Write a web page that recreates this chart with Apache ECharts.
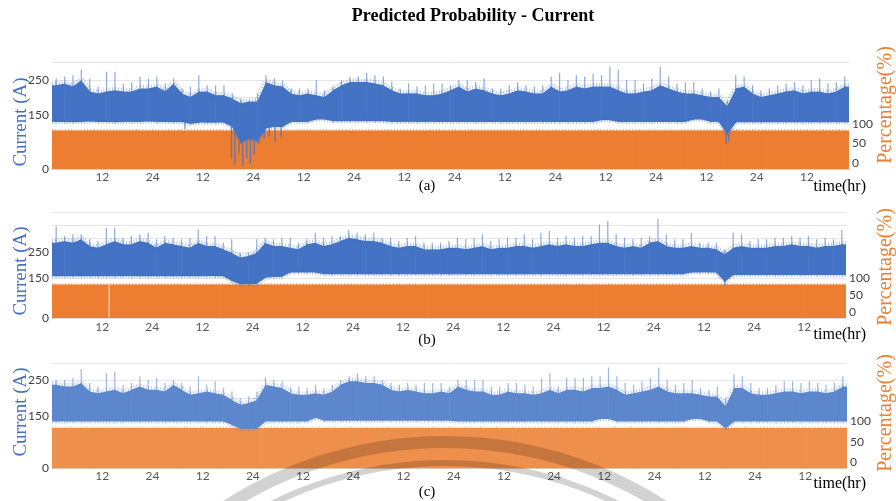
<!DOCTYPE html>
<html>
<head>
<meta charset="utf-8">
<script src="https://cdn.jsdelivr.net/npm/echarts@6/dist/echarts.min.js"></script>
<style>
  html, body { margin: 0; padding: 0; background: #ffffff; }
  #chart { width: 896px; height: 501px; }
</style>
</head>
<body>
<div id="chart"></div>
<script>
// Time axis: 2-hour bins over 190 hours, labelled by hour of day.
const BIN_HOURS = 2;
const SPAN_HOURS = 190;
const ORANGE_BIN_HOURS = 10;
const hourLabels = ['12', '24'];
const currentLabelValues = [0, 150, 250];
const percentLabelValues = [0, 50, 100];

// ---- (a) current envelope per 2 h bin: lower edge, dense top, spike top (A)
const currentA_low = [
  132,132,131,132,133,132,132,131,132,132,
  132,133,132,132,131,132,126,130,130,130,
  130,118,72,86,77,114,118,118,132,132,
  132,139,139,134,134,134,134,134,134,134,
  132,132,132,132,132,132,132,132,
  132,132,132,132,132,132,132,132,132,132,
  132,132,132,132,132,132,132,137,137,132,
  132,132,132,132,132,132,132,132,139,139,
  132,132,95,131,131,131,131,131,131,131,
  131,131,131,131,131,131,131
];
const currentA_high = [
  235,240,231,249,217,212,217,221,217,217,
  226,226,231,217,240,212,202,217,217,207,
  207,198,184,189,189,244,235,231,212,207,
  212,207,202,221,235,244,244,244,240,235,
  221,212,212,212,207,207,212,221,
  231,217,226,221,212,207,212,221,217,212,
  212,231,217,221,231,226,231,231,231,221,
  212,212,217,221,235,226,217,212,212,207,
  202,202,175,226,231,212,202,207,212,217,
  221,212,217,217,212,217,231
];
const currentA_peak = [
  254,259,263,279,254,231,273,273,240,244,
  259,254,259,240,254,226,231,263,235,235,
  235,212,198,193,212,263,254,249,226,226,
  226,249,221,231,249,259,259,270,263,259,
  244,226,240,231,235,240,240,235,
  249,249,244,254,226,226,235,244,235,231,
  235,259,270,249,263,259,268,263,287,278,
  249,249,240,254,287,259,240,244,244,226,
  217,226,193,263,259,235,221,226,235,240,
  244,235,249,254,240,244,259
];
// short drops of the current below the band: [hour, A]
const currentA_drops = [
  [31.7, 112], [42.8, 28], [43.6, 12], [44.6, 45], [45.5, 8], [46.4, 30],
  [47.3, 15], [48.2, 40], [49.3, 70], [50.6, 85], [51.8, 92], [53.2, 75],
  [54.6, 90], [160.7, 70], [161.3, 78]
];
// predicted probability per 10 h bin (%)
const percentA = [99,99,99,99,99,99,99,99,99,99,99,99,99,99,99,99,99,99,99];
const percentA_drops = [];

// ---- (b)
const currentB_low = [
  158,158,158,158,158,158,158,158,158,158,
  158,158,158,158,158,158,158,158,158,158,
  158,140,127,127,128,152,155,155,172,172,
  172,172,165,165,165,165,165,165,165,165,
  165,165,165,165,165,165,165,165,
  165,165,165,165,165,165,165,165,165,165,
  165,165,165,165,165,165,165,165,165,165,
  165,165,165,165,165,165,165,165,172,172,
  172,172,136,162,162,162,162,162,162,162,
  162,162,162,162,162,162,162
];
const currentB_high = [
  284,291,284,297,272,265,278,291,278,278,
  291,284,265,284,278,272,265,284,272,272,
  259,246,228,234,246,284,272,272,265,259,
  278,284,272,278,291,303,297,291,291,284,
  272,265,272,272,259,259,259,265,
  265,259,265,272,259,265,265,272,272,265,
  272,278,272,278,272,272,278,284,284,272,
  265,272,265,284,291,272,265,265,272,265,
  265,259,240,265,272,265,265,265,272,272,
  278,272,272,265,272,272,278
];
const currentB_peak = [
  345,309,316,316,297,291,341,341,303,309,
  316,322,297,309,303,297,303,335,309,309,
  284,297,246,246,297,303,297,303,303,284,
  297,322,303,309,309,332,322,316,322,303,
  303,291,303,309,284,284,284,291,
  303,297,303,316,291,297,303,303,316,297,
  322,328,303,309,303,309,309,353,366,316,
  303,297,303,309,375,316,297,297,322,284,
  284,284,259,322,316,291,297,297,303,303,
  309,303,309,297,303,297,332
];
const currentB_drops = [[161.0, 122]];
const percentB = [99,99,99,99,99,99,99,99,99,99,99,99,99,99,99,99,99,99,99];
const percentB_drops = [[13.65, 2]];

// ---- (c)
const currentC_low = [
  134,134,134,134,134,134,134,134,134,134,
  134,134,134,134,134,134,134,134,134,134,
  134,124,113,113,113,134,134,134,134,134,
  134,144,136,136,136,136,136,136,136,136,
  136,136,136,136,136,136,136,136,
  134,134,134,134,134,134,134,134,134,134,
  134,134,134,134,134,134,134,141,141,134,
  134,134,134,134,134,134,134,134,141,141,
  134,134,113,134,134,134,134,134,134,134,
  134,134,134,134,134,134,134
];
const currentC_high = [
  238,233,233,243,219,214,219,224,214,224,
  233,224,224,219,238,224,210,214,219,214,
  210,195,181,186,195,238,233,229,214,210,
  210,214,210,219,238,248,248,243,243,238,
  224,219,224,219,214,214,219,214,
  233,224,219,219,210,210,219,214,214,210,
  214,224,214,224,224,219,229,229,233,224,
  210,214,219,224,233,219,214,214,214,210,
  205,205,176,229,229,214,210,210,214,219,
  219,214,219,219,214,219,233
];
const currentC_peak = [
  252,252,257,283,243,233,271,276,238,243,
  262,252,257,243,252,243,233,262,238,248,
  229,219,200,205,219,259,252,248,233,233,
  229,238,229,238,252,262,271,262,262,252,
  243,238,243,238,243,243,243,233,
  252,252,252,252,233,233,243,243,238,233,
  257,271,233,257,257,257,262,262,287,262,
  243,238,248,257,287,252,238,243,252,229,
  224,233,200,267,262,243,229,229,238,248,
  248,243,248,243,238,243,262
];
const currentC_drops = [];
const percentC = [99,99,99,99,99,99,99,99,99,99,99,99,99,99,99,99,99,99,99];
const percentC_drops = [];

// Panel layout (pixel boxes) and colours
const panels = [
  { tag: '(a)', top: 62, height: 107, right: 47, curMax: 300, pctMax: 275,
    low: currentA_low, high: currentA_high, peak: currentA_peak, drops: currentA_drops,
    pct: percentA, pctDrops: percentA_drops,
    blue: '#4472C4', orange: '#ED7D31', tagY: 186, timeY: 187, nameCY: 122, pctNameCY: 105, labelMargin: 2 },
  { tag: '(b)', top: 212, height: 106, right: 50, curMax: 400, pctMax: 313,
    low: currentB_low, high: currentB_high, peak: currentB_peak, drops: currentB_drops,
    pct: percentB, pctDrops: percentB_drops,
    blue: '#4472C4', orange: '#ED7D31', tagY: 340, timeY: 335, nameCY: 271, pctNameCY: 267, labelMargin: 3 },
  { tag: '(c)', top: 363, height: 105.5, right: 49, curMax: 300, pctMax: 258,
    low: currentC_low, high: currentC_high, peak: currentC_peak, drops: currentC_drops,
    pct: percentC, pctDrops: percentC_drops,
    blue: '#5D87CD', orange: '#EF8F4C', tagY: 492, timeY: 484, nameCY: 412, pctNameCY: 413, labelMargin: 2 }
];

const LEFT = 52;
const tickFont = 'Lato, "Liberation Sans", sans-serif';
const serif = '"Liberation Serif", "DejaVu Serif", serif';

// Band between lower edge and dense top, joined from bin centre to bin centre.
function bandSegments(low, high) {
  const pts = [[0, low[0], high[0]]];
  low.forEach((v, k) => pts.push([k * BIN_HOURS + BIN_HOURS / 2, v, high[k]]));
  const n = low.length - 1;
  pts.push([SPAN_HOURS, low[n], high[n]]);
  const segs = [];
  for (let k = 0; k < pts.length - 1; k++) segs.push(pts[k].concat(pts[k + 1]));
  return segs;
}

// Solid band plus a fine comb stroke along both edges, giving the
// grassy look of densely sampled current.
function bandRenderer(color) {
  return function (params, api) {
    const a0 = api.coord([api.value(0), api.value(1)]);
    const a1 = api.coord([api.value(0), api.value(2)]);
    const b0 = api.coord([api.value(3), api.value(4)]);
    const b1 = api.coord([api.value(3), api.value(5)]);
    return {
      type: 'group',
      children: [
        { type: 'polygon',
          shape: { points: [[a0[0] - 0.3, a0[1]], [a1[0] - 0.3, a1[1]], [b1[0] + 0.3, b1[1]], [b0[0] + 0.3, b0[1]]] },
          style: { fill: color } },
        { type: 'polyline', shape: { points: [[a1[0], a1[1]], [b1[0], b1[1]]] },
          style: { stroke: color, lineWidth: 7, lineDash: [1, 1.9], lineCap: 'butt', opacity: 0.4, fill: null } },
        { type: 'polyline', shape: { points: [[a0[0], a0[1]], [b0[0], b0[1]]] },
          style: { stroke: color, lineWidth: 4, lineDash: [1, 1.6], lineCap: 'butt', opacity: 0.45, fill: null } }
      ]
    };
  };
}

function lineRenderer(color, width, alpha) {
  return function (params, api) {
    const p = api.coord([api.value(0), api.value(1)]);
    const q = api.coord([api.value(0), api.value(2)]);
    return { type: 'line', shape: { x1: p[0], y1: p[1], x2: q[0], y2: q[1] },
             style: { stroke: color, lineWidth: width, opacity: alpha } };
  };
}

function pctRenderer(color) {
  return function (params, api) {
    const x0 = api.value(0);
    const a = api.coord([x0, 0]);
    const b = api.coord([Math.min(x0 + ORANGE_BIN_HOURS, SPAN_HOURS), api.value(1)]);
    return {
      type: 'group',
      children: [
        { type: 'rect', shape: { x: a[0], y: b[1], width: b[0] - a[0] + 0.6, height: a[1] - b[1] },
          style: { fill: color } },
        { type: 'line', shape: { x1: a[0], y1: b[1], x2: b[0], y2: b[1] },
          style: { stroke: color, lineWidth: 3, lineDash: [1, 2.2], lineCap: 'butt', opacity: 0.6 } }
      ]
    };
  };
}

const grid = [], xAxis = [], yAxis = [], series = [], graphic = [];

panels.forEach((p, i) => {
  grid.push({ left: LEFT, right: p.right, top: p.top, height: p.height });
  xAxis.push({
    gridIndex: i, type: 'value', min: 0, max: SPAN_HOURS, interval: 12,
    axisLine: { show: true, lineStyle: { color: '#D9D9D9', width: 1 } },
    axisTick: { show: false }, splitLine: { show: false },
    axisLabel: {
      margin: p.labelMargin, color: '#595959', fontFamily: tickFont, fontSize: 12,
      showMinLabel: false, showMaxLabel: false,
      formatter: v => (v <= 0 || v >= SPAN_HOURS) ? '' : (v % 24 === 0 ? hourLabels[1] : hourLabels[0])
    }
  });
  yAxis.push({
    gridIndex: i, type: 'value', min: 0, max: p.curMax, interval: 50, position: 'left',
    axisLine: { show: false }, axisTick: { show: false },
    splitLine: { show: true, lineStyle: { color: '#E6E6E6', width: 1 } },
    axisLabel: { margin: 3, color: '#404040', fontFamily: tickFont, fontSize: 12,
      formatter: v => currentLabelValues.includes(v) ? String(v) : '' }
  });
  yAxis.push({
    gridIndex: i, type: 'value', min: 0, max: p.pctMax, interval: 50, position: 'right',
    axisLine: { show: false }, axisTick: { show: false }, splitLine: { show: false },
    axisLabel: { margin: 3, color: '#404040', fontFamily: tickFont, fontSize: 12,
      verticalAlign: 'bottom', showMaxLabel: false,
      formatter: v => percentLabelValues.includes(v) ? String(v) : '' }
  });

  const curAxis = i * 2, pctAxis = i * 2 + 1;

  series.push({
    type: 'custom', xAxisIndex: i, yAxisIndex: pctAxis, clip: true, z: 1,
    renderItem: pctRenderer(p.orange),
    encode: { x: 0, y: 1 },
    data: p.pct.map((v, k) => [k * ORANGE_BIN_HOURS, v])
  });
  series.push({
    type: 'custom', xAxisIndex: i, yAxisIndex: pctAxis, clip: true, z: 2,
    renderItem: lineRenderer('#ffffff', 1, 0.75),
    encode: { x: 0, y: [1, 2] },
    data: p.pctDrops.map(d => [d[0], p.pct[Math.floor(d[0] / ORANGE_BIN_HOURS)], d[1]])
  });
  series.push({
    type: 'custom', xAxisIndex: i, yAxisIndex: curAxis, clip: true, z: 3,
    renderItem: bandRenderer(p.blue),
    encode: { x: [0, 3], y: [1, 2, 4, 5] },
    data: bandSegments(p.low, p.high)
  });
  series.push({
    type: 'custom', xAxisIndex: i, yAxisIndex: curAxis, clip: true, z: 4,
    renderItem: lineRenderer(p.blue, 1.2, 0.6),
    encode: { x: 0, y: [1, 2] },
    data: p.peak.map((v, k) => [k * BIN_HOURS + BIN_HOURS / 2, p.high[k] - 4, v])
  });
  series.push({
    type: 'custom', xAxisIndex: i, yAxisIndex: curAxis, clip: true, z: 4,
    renderItem: lineRenderer(p.blue, 1.3, 0.8),
    encode: { x: 0, y: [1, 2] },
    data: p.drops.map(d => [d[0], p.low[Math.floor(d[0] / BIN_HOURS)] + 4, d[1]])
  });

  graphic.push({ type: 'text', x: 427, y: p.tagY,
    style: { text: p.tag, font: '15px ' + serif, fill: '#000', textAlign: 'center', textVerticalAlign: 'middle' } });
  graphic.push({ type: 'text', x: 866, y: p.timeY,
    style: { text: 'time(hr)', font: '16px ' + serif, fill: '#000', textAlign: 'right', textVerticalAlign: 'middle' } });
  graphic.push({ type: 'text', x: 21, y: p.nameCY, rotation: Math.PI / 2,
    style: { text: 'Current (A)', font: '19px ' + serif, fill: '#4472C4', textAlign: 'center', textVerticalAlign: 'middle' } });
  graphic.push({ type: 'text', x: 886, y: p.pctNameCY, rotation: Math.PI / 2,
    style: { text: 'Percentage(%)', font: '20px ' + serif, fill: '#ED7D31', textAlign: 'center', textVerticalAlign: 'middle' } });
});

// Faint circular seal printed across the lower panel
graphic.push({ type: 'arc', z: 50, silent: true,
  shape: { cx: 445, cy: 847, r: 405, startAngle: -Math.PI * 0.85, endAngle: -Math.PI * 0.15 },
  style: { stroke: '#D2D2D2', lineWidth: 12, fill: null, blend: 'multiply' } });
graphic.push({ type: 'arc', z: 50, silent: true,
  shape: { cx: 445, cy: 850, r: 387, startAngle: -Math.PI * 0.85, endAngle: -Math.PI * 0.15 },
  style: { stroke: '#D2D2D2', lineWidth: 6, fill: null, blend: 'multiply' } });

graphic.push({ type: 'text', x: 473, y: 16,
  style: { text: 'Predicted Probability - Current', font: 'bold 18px ' + serif, fill: '#000',
           textAlign: 'center', textVerticalAlign: 'middle' } });

const chart = echarts.init(document.getElementById('chart'), null, { renderer: 'canvas' });
chart.setOption({
  animation: false,
  backgroundColor: '#ffffff',
  grid, xAxis, yAxis, series, graphic
});
</script>
</body>
</html>
